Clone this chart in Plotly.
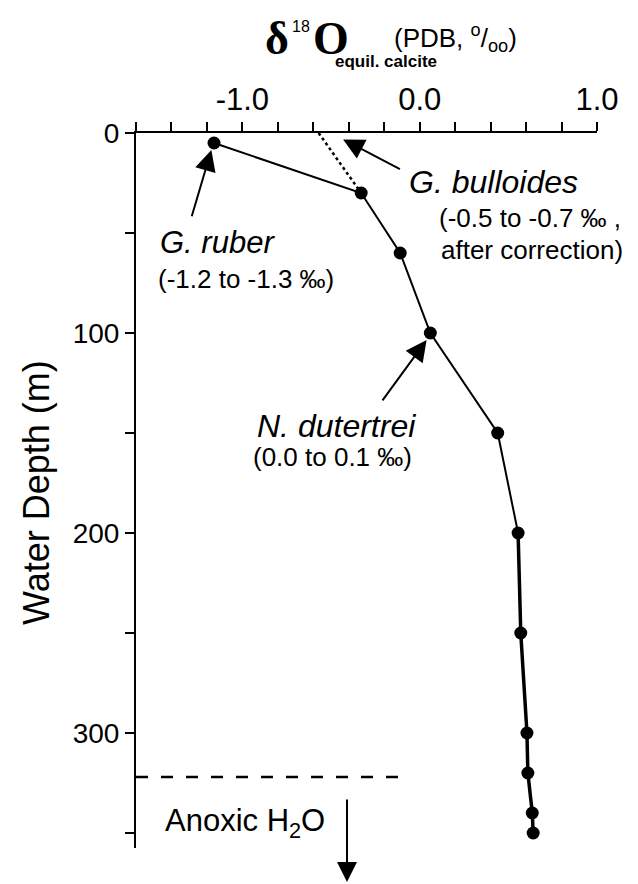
import plotly.graph_objects as go

# ---------------- data ----------------
depth_m = [5, 30, 60, 100, 150, 200, 250, 300, 320, 340, 350]
d18o_calcite = [-1.16, -0.33, -0.11, 0.06, 0.44, 0.555, 0.57, 0.605, 0.61, 0.635, 0.64]

bulloides_depth = [0, 30]
bulloides_d18o = [-0.57, -0.33]

anoxic_boundary_depth = [322, 322]
anoxic_boundary_x = [-1.6, -0.08]

x_tick_vals = [-1.0, 0.0, 1.0]
x_tick_text = ["-1.0", "0.0", "1.0"]
x_minor_step = 0.2
y_tick_vals = [0, 100, 200, 300]
y_tick_text = ["0", "100", "200", "300"]
y_minor_step = 50

# ---------------- layout constants ----------------
OFF = 8  # default page body margin
W, H = 638 - OFF, 884 - OFF
ML, MR, MT, MB = 136 - OFF, 41, 133 - OFF, 36
PW, PH = W - ML - MR, H - MT - MB
SANS = "Liberation Sans, Arial, sans-serif"
SERIF = "Liberation Serif, Times New Roman, serif"


def px(xp):
    """window pixel x -> paper x"""
    return (xp - OFF - ML) / PW


def py(yp):
    """window pixel y -> paper y"""
    return 1 - (yp - OFF - MT) / PH


fig = go.Figure()

thin_n = 6
fig.add_trace(go.Scatter(x=d18o_calcite[:thin_n], y=depth_m[:thin_n], mode="lines",
                         line=dict(color="black", width=2), showlegend=False))
fig.add_trace(go.Scatter(x=d18o_calcite[thin_n - 1:], y=depth_m[thin_n - 1:], mode="lines",
                         line=dict(color="black", width=3.5), showlegend=False))
fig.add_trace(go.Scatter(x=bulloides_d18o, y=bulloides_depth, mode="lines",
                         line=dict(color="black", width=2.5, dash="dot"), showlegend=False))
fig.add_trace(go.Scatter(x=anoxic_boundary_x, y=anoxic_boundary_depth, mode="lines",
                         line=dict(color="black", width=2.5, dash="12px,13px"), showlegend=False))
fig.add_trace(go.Scatter(x=d18o_calcite, y=depth_m, mode="markers",
                         marker=dict(color="black", size=13), showlegend=False))

ann = []

# pointer arrows (head at x,y ; tail at ax,ay), data coordinates
arrows = [
    (-1.175, 8.5, -1.288, 42.4),
    (-0.432, 3.2, -0.103, 18.5),
    (0.039, 103.5, -0.216, 134.4),
]
for hx, hy, tx, ty in arrows:
    ann.append(dict(x=hx, y=hy, ax=tx, ay=ty, xref="x", yref="y", axref="x", ayref="y",
                    text="", showarrow=True, arrowhead=2, arrowsize=2.1, arrowwidth=2,
                    arrowcolor="black"))

# anoxic arrow going below the plot
ann.append(dict(x=-0.41, y=py(882), xref="x", yref="paper", ax=0, ay=-84,
                text="", showarrow=True, arrowhead=2, arrowsize=2.0, arrowwidth=2,
                arrowcolor="black"))

labels = [
    ("<i>G. ruber</i>", -1.143, 54.7, 31),
    ("(-1.2 to -1.3 ‰)", -0.982, 73, 26),
    ("<i>G. bulloides</i>", 0.415, 24.3, 32),
    ("(-0.5 to -0.7 ‰ ,", 0.622, 42.5, 26),
    ("after correction)", 0.636, 58.5, 26),
    ("<i>N. dutertrei</i>", -0.47, 146.5, 32),
    ("(0.0 to 0.1 ‰)", -0.493, 161.8, 26),
    ("Anoxic H<sub>2</sub>O", -0.987, 345, 31),
]
for txt, x, y, s in labels:
    ann.append(dict(x=x, y=y, xref="x", yref="y", text=txt, showarrow=False,
                    xanchor="center", yanchor="middle",
                    font=dict(family=SANS, size=s, color="black")))

# axis title (top)
title_parts = [
    ("<b>δ</b>", 277, 39, 46, SERIF),
    ("18", 301, 26, 16, SANS),
    ("<b>O</b>", 331, 39, 46, SERIF),
    ("<b>equil. calcite</b>", 386, 61, 17, SANS),
    ("(PDB, <sup>o</sup>/<sub>oo</sub>)", 455, 38, 26, SANS),
]
for txt, xp, yp, s, fam in title_parts:
    ann.append(dict(x=px(xp), y=py(yp), xref="paper", yref="paper", text=txt,
                    showarrow=False, xanchor="center", yanchor="middle",
                    font=dict(family=fam, size=s, color="black")))

# y axis title
ann.append(dict(x=px(36), y=py(493), xref="paper", yref="paper", text="Water Depth (m)",
                textangle=-90, showarrow=False, xanchor="center", yanchor="middle",
                font=dict(family=SANS, size=36, color="black")))

fig.update_layout(
    width=W, height=H,
    margin=dict(l=ML, r=MR, t=MT, b=MB),
    paper_bgcolor="white", plot_bgcolor="white",
    annotations=ann,
    xaxis=dict(side="top", range=[-1.6, 1.0], showline=True, linecolor="black", linewidth=2,
               ticks="outside", ticklen=9, tickwidth=2, tickcolor="black",
               tickvals=x_tick_vals, ticktext=x_tick_text,
               minor=dict(ticks="outside", ticklen=9, tickwidth=2, tickcolor="black",
                          tick0=-1.6, dtick=x_minor_step, showgrid=False),
               tickfont=dict(family=SANS, size=31, color="black"),
               showgrid=False, zeroline=False),
    yaxis=dict(range=[PH / 2, 0], showline=True, linecolor="black", linewidth=2,
               ticks="outside", ticklen=9, tickwidth=2, tickcolor="black",
               tickvals=y_tick_vals, ticktext=y_tick_text,
               minor=dict(ticks="outside", ticklen=9, tickwidth=2, tickcolor="black",
                          tick0=0, dtick=y_minor_step, showgrid=False),
               tickfont=dict(family=SANS, size=28, color="black"),
               showgrid=False, zeroline=False),
)

fig.write_html("out.html")
